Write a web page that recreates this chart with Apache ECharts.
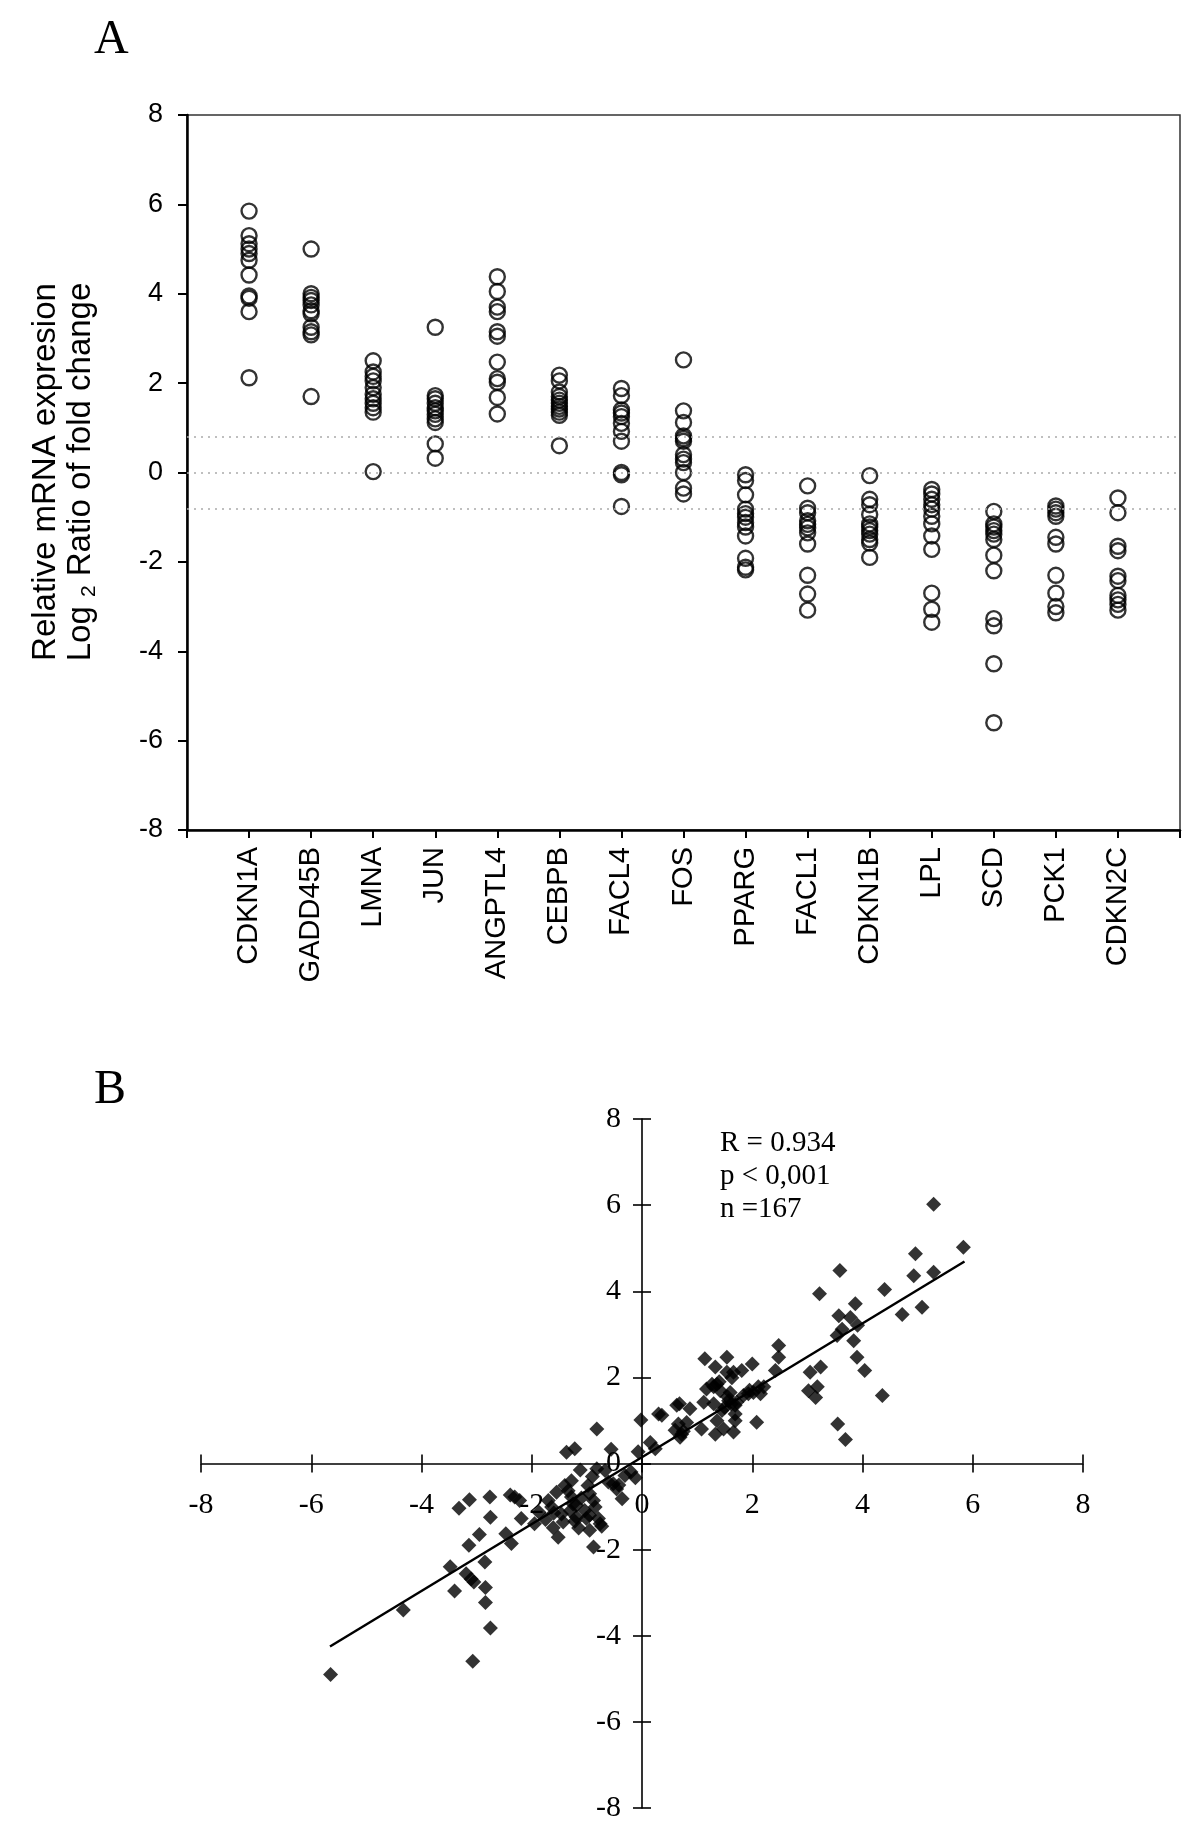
<!DOCTYPE html>
<html>
<head>
<meta charset="utf-8">
<script src="https://cdn.jsdelivr.net/npm/echarts@6/dist/echarts.min.js"></script>
<style>html,body{margin:0;padding:0;background:#fff;}#c{width:1200px;height:1845px;}</style>
</head>
<body>
<div id="c"></div>
<script>
// ---------- Panel A data ----------
const genes = ['CDKN1A','GADD45B','LMNA','JUN','ANGPTL4','CEBPB','FACL4','FOS','PPARG','FACL1','CDKN1B','LPL','SCD','PCK1','CDKN2C'];
const vCDKN1A  = [5.85, 5.30, 5.12, 5.00, 4.90, 4.75, 4.42, 3.95, 3.90, 3.60, 2.12];
const vGADD45B = [5.00, 4.00, 3.92, 3.85, 3.75, 3.62, 3.55, 3.25, 3.15, 3.08, 1.70];
const vLMNA    = [2.50, 2.25, 2.15, 2.05, 1.90, 1.75, 1.65, 1.55, 1.45, 1.35, 0.02];
const vJUN     = [3.25, 1.72, 1.65, 1.55, 1.45, 1.38, 1.30, 1.20, 1.12, 0.64, 0.32];
const vANGPTL4 = [4.38, 4.05, 3.70, 3.60, 3.15, 3.05, 2.47, 2.10, 2.02, 1.68, 1.31];
const vCEBPB   = [2.18, 2.05, 1.80, 1.70, 1.62, 1.55, 1.48, 1.42, 1.35, 1.28, 0.60];
const vFACL4   = [1.88, 1.72, 1.40, 1.33, 1.25, 1.10, 0.92, 0.70, 0.00, -0.05, -0.76];
const vFOS     = [2.52, 1.38, 1.12, 0.82, 0.76, 0.70, 0.40, 0.30, 0.22, 0.00, -0.35, -0.48];
const vPPARG   = [-0.05, -0.18, -0.50, -0.82, -0.92, -1.00, -1.12, -1.22, -1.42, -1.92, -2.12, -2.18];
const vFACL1   = [-0.30, -0.80, -0.90, -1.08, -1.16, -1.24, -1.35, -1.60, -2.30, -2.72, -3.08];
const vCDKN1B  = [-0.07, -0.60, -0.72, -0.94, -1.15, -1.22, -1.30, -1.38, -1.50, -1.58, -1.90];
const vLPL     = [-0.38, -0.48, -0.60, -0.72, -0.82, -0.98, -1.15, -1.42, -1.72, -2.70, -3.06, -3.35];
const vSCD     = [-0.87, -1.15, -1.22, -1.30, -1.38, -1.50, -1.85, -2.20, -3.27, -3.43, -4.28, -5.60];
const vPCK1    = [-0.75, -0.82, -0.90, -0.98, -1.45, -1.60, -2.30, -2.70, -3.00, -3.14];
const vCDKN2C  = [-0.57, -0.90, -1.65, -1.75, -2.32, -2.42, -2.75, -2.85, -2.95, -3.08];
const geneValues = [vCDKN1A, vGADD45B, vLMNA, vJUN, vANGPTL4, vCEBPB, vFACL4, vFOS, vPPARG, vFACL1, vCDKN1B, vLPL, vSCD, vPCK1, vCDKN2C];
const thresholds = [0.8, 0, -0.8];
const yTicksA = [-8, 8, 2]; // min, max, interval

// ---------- Panel B data ----------
const scatterPairs = [
 [-5.65,-4.90],[-4.33,-3.40],[-3.48,-2.40],[-3.40,-2.96],[-3.32,-1.04],[-3.13,-0.84],[-3.14,-1.90],[-2.95,-1.65],
 [-3.19,-2.56],[-3.10,-2.68],[-3.05,-2.75],[-3.07,-4.59],[-2.85,-2.29],[-2.84,-2.88],[-2.84,-3.23],[-2.75,-3.82],
 [-2.76,-0.78],[-2.75,-1.25],[-2.47,-1.63],[-2.37,-1.86],[-2.39,-0.73],[-2.31,-0.78],[-2.22,-0.86],[-2.19,-1.28],
 [-1.95,-1.40],[-1.87,-1.13],[-1.70,-0.86],[-1.64,-1.01],[-1.61,-1.49],[-1.52,-1.71],[-1.55,-0.67],[-1.46,-1.17],
 [-1.43,-1.36],[-1.40,-0.51],[-1.34,-0.63],[-1.28,-0.40],[-1.28,-0.78],[-1.25,-0.94],[-1.22,-1.34],[-1.19,-1.25],
 [-1.19,-0.97],[-1.37,0.26],[-1.22,0.34],[-1.12,-0.15],[-1.04,-1.09],[-1.01,-1.28],[-0.98,-0.51],[-0.95,-0.70],
 [-0.95,-1.20],[-0.88,-0.86],[-0.85,-1.01],[-0.88,-1.94],[-0.82,0.80],[-0.82,-0.12],[-0.79,-1.28],[-0.76,-1.40],
 [-0.73,-1.46],[-0.67,-0.16],[-0.56,0.33],[-0.61,-0.43],[-0.52,-0.47],[-0.46,-0.59],[-0.36,-0.82],[-0.31,-0.28],
 [-0.20,-0.20],[-0.12,-0.33],[-0.07,0.27],[-0.02,1.01],[-1.10,-0.80],[-1.30,-1.10],[-0.90,-0.30],[-1.60,-1.15],
 [-1.15,-1.50],[-0.95,-1.55],[-0.42,-0.50],[-1.75,-1.30],
 [0.15,0.49],[0.24,0.34],[0.30,1.15],[0.36,1.12],[0.60,0.77],[0.63,1.35],[0.68,1.39],[0.66,0.92],[0.69,0.61],
 [0.72,0.68],[0.81,0.95],[0.87,1.27],[1.08,0.80],[1.12,1.42],[1.14,2.43],[1.17,1.73],[1.27,1.84],[1.30,1.39],
 [1.33,0.68],[1.33,2.24],[1.36,1.84],[1.36,0.99],[1.42,1.69],[1.45,1.23],[1.48,0.80],[1.54,2.47],[1.54,2.12],
 [1.57,1.46],[1.60,1.65],[1.63,1.99],[1.66,2.12],[1.66,0.73],[1.69,1.35],[1.69,1.15],[1.69,0.99],[1.72,1.42],
 [1.81,2.16],[1.84,1.58],[1.93,1.62],[2.00,2.31],[2.02,1.65],[2.08,0.96],[2.11,1.78],[2.15,1.62],[2.21,1.78],
 [2.42,2.16],[2.48,2.74],[2.48,2.47],[3.05,2.12],[3.02,1.69],[3.15,1.53],[3.18,1.78],[3.24,2.24],[3.22,3.94],
 [3.55,0.92],[3.69,0.56],[3.54,2.97],[3.57,3.43],[3.59,4.48],[3.63,3.12],[3.78,3.39],[3.84,2.85],[3.87,3.71],
 [3.90,2.47],[3.91,3.21],[4.04,2.16],[4.36,1.58],[4.40,4.04],[4.72,3.46],[4.93,4.36],[4.96,4.87],[5.08,3.63],
 [5.29,4.44],[5.29,6.02],[5.83,5.02],[1.55,1.55],[1.62,1.38],[1.30,1.78],[1.50,1.30],[0.75,0.75],[1.95,1.70],[1.40,1.90]
];
const fitLine = [[-5.66,-4.25],[5.85,4.69]];
const statsText = ['R = 0.934', 'p < 0,001', 'n =167'];
const axisRangeB = [-8, 8, 2];

// ---------- build ----------
const catsA = [''].concat(genes, ['']);
const dataA = [];
genes.forEach((g, i) => geneValues[i].forEach(v => dataA.push([g, v])));

const SANS = 'Liberation Sans';
const SERIF = 'Liberation Serif';

const mc = document.createElement('canvas').getContext('2d');
function tw(t, size) { mc.font = size + 'px "' + SANS + '"'; return mc.measureText(t).width; }
const tSize = 33, sSize = 21;
const p1 = 'Log ', p2 = '2', p3 = ' Ratio of fold change';
const w1 = tw(p1, tSize), w2 = tw(p2, sSize), w3 = tw(p3, tSize);
const x0 = -(w1 + w2 + w3) / 2;

const chart = echarts.init(document.getElementById('c'), null, {renderer: 'canvas', width: 1200, height: 1845});

const gridB = {left: 201, top: 1119, width: 882, height: 689};
const axisB = (isX, main) => ({
  gridIndex: 1, type: 'value', min: axisRangeB[0], max: axisRangeB[1], interval: axisRangeB[2],
  position: isX ? 'bottom' : 'left',
  offset: isX ? -gridB.height / 2 : -gridB.width / 2,
  axisLine: {show: main, onZero: false, lineStyle: {color: '#000', width: 1.6}},
  axisTick: {show: true, inside: !main, length: 9, lineStyle: {color: '#000', width: 1.6}},
  axisLabel: {show: main, color: '#000', fontFamily: SERIF, fontSize: 30, margin: isX ? 27 : 21},
  splitLine: {show: false}
});

chart.setOption({
  animation: false,
  backgroundColor: '#fff',
  grid: [
    {left: 187, top: 115, width: 993, height: 715, show: true, borderColor: '#333', borderWidth: 1.5, containLabel: false},
    Object.assign({show: false, containLabel: false}, gridB)
  ],
  xAxis: [
    {gridIndex: 0, type: 'category', data: catsA, boundaryGap: false,
     axisLine: {onZero: false, lineStyle: {color: '#000', width: 2.5}},
     axisTick: {length: 8, lineStyle: {color: '#000', width: 2}, interval: 0},
     axisLabel: {rotate: 90, interval: 0, margin: 17, fontSize: 29, fontFamily: SANS, color: '#000'},
     splitLine: {show: false}},
    axisB(true, true),
    axisB(true, false)
  ],
  yAxis: [
    {gridIndex: 0, type: 'value', min: yTicksA[0], max: yTicksA[1], interval: yTicksA[2],
     axisLine: {show: true, lineStyle: {color: '#000', width: 2.5}},
     axisTick: {show: true, length: 9, lineStyle: {color: '#000', width: 2}},
     axisLabel: {fontSize: 27, fontFamily: SANS, color: '#000', margin: 24},
     splitLine: {show: false}},
    axisB(false, true),
    axisB(false, false)
  ],
  series: [
    {type: 'scatter', xAxisIndex: 0, yAxisIndex: 0, data: dataA, symbol: 'circle', symbolSize: 15,
     itemStyle: {color: 'rgba(0,0,0,0)', borderColor: '#000', borderWidth: 2.4},
     markLine: {silent: true, symbol: ['none', 'none'], label: {show: false},
       lineStyle: {type: [2, 5], color: '#aaa', width: 1.5},
       data: thresholds.map(t => ({yAxis: t}))}},
    {type: 'scatter', xAxisIndex: 1, yAxisIndex: 1, data: scatterPairs, symbol: 'diamond', symbolSize: 15,
     itemStyle: {color: '#000'}},
    {type: 'line', xAxisIndex: 1, yAxisIndex: 1, data: fitLine, showSymbol: false, symbol: 'none',
     lineStyle: {color: '#000', width: 2.5}, z: 3}
  ],
  graphic: [
    {type: 'text', left: 94, top: 16, style: {text: 'A', fontSize: 48, fontFamily: SERIF, fill: '#000'}},
    {type: 'text', left: 94, top: 1066, style: {text: 'B', fontSize: 48, fontFamily: SERIF, fill: '#000'}},
    {type: 'group', x: 63, y: 472, rotation: Math.PI / 2, children: [
      {type: 'text', x: 0, y: -17, style: {text: 'Relative mRNA expresion', fontSize: tSize, fontFamily: SANS, fill: '#000', align: 'center', verticalAlign: 'middle'}},
      {type: 'text', x: x0, y: 18, style: {text: p1, fontSize: tSize, fontFamily: SANS, fill: '#000', align: 'left', verticalAlign: 'middle'}},
      {type: 'text', x: x0 + w1, y: 26, style: {text: p2, fontSize: sSize, fontFamily: SANS, fill: '#000', align: 'left', verticalAlign: 'middle'}},
      {type: 'text', x: x0 + w1 + w2, y: 18, style: {text: p3, fontSize: tSize, fontFamily: SANS, fill: '#000', align: 'left', verticalAlign: 'middle'}}
    ]},
    {type: 'text', left: 720, top: 1127, style: {text: statsText.join('\n'), fontSize: 29, lineHeight: 33, fontFamily: SERIF, fill: '#000'}}
  ]
});
</script>
</body>
</html>
